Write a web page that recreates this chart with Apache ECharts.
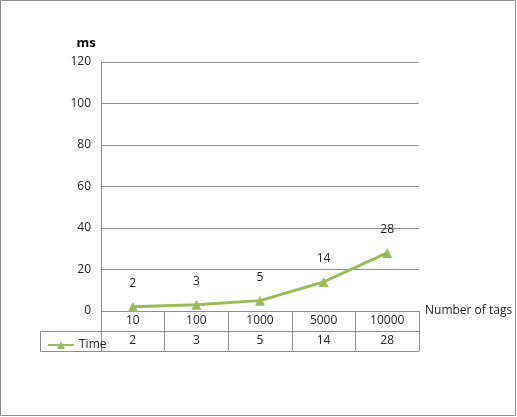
<!DOCTYPE html>
<html><head><meta charset="utf-8">
<script src="https://cdn.jsdelivr.net/npm/echarts@6/dist/echarts.min.js"></script>
<style>html,body{margin:0;padding:0;background:#fff}#main{width:517px;height:417px}</style>
</head><body>
<div id="main"></div>
<script>
const categories = ['10', '100', '1000', '5000', '10000'];
const timeValues = [2, 3, 5, 14, 28];
const yTicks = [0, 20, 40, 60, 80, 100, 120];

const chart = echarts.init(document.getElementById('main'));
const gray = '#8c8c8c';
const font = { fontFamily: 'Open Sans', fontSize: 12, color: '#222' };

chart.setOption({
    animation: false,
    textStyle: { fontFamily: 'Open Sans' },
    grid: { left: 101, right: 98, top: 62, bottom: 106, outerBoundsMode: 'none' },
    legend: {
        left: 42, top: 334, itemWidth: 26, itemHeight: 10, itemGap: 2,
        textStyle: font, data: ['Time']
    },
    xAxis: [
        {
            type: 'category', data: categories, position: 'bottom',
            axisLine: { lineStyle: { color: gray } },
            axisTick: { show: true, length: 20, lineStyle: { color: gray } },
            axisLabel: Object.assign({ margin: 4 }, font),
            name: 'Number of tags', nameLocation: 'end', nameGap: 6,
            nameTextStyle: Object.assign({ padding: [22, 0, 0, 0] }, font)
        },
        {
            type: 'category', data: timeValues.map(String), position: 'bottom', offset: 20,
            axisLine: { lineStyle: { color: gray } },
            axisTick: { show: true, length: 20, lineStyle: { color: gray } },
            axisLabel: Object.assign({ margin: 4 }, font)
        },
        {
            type: 'category', data: categories, position: 'bottom', offset: 40,
            axisLine: { lineStyle: { color: gray } },
            axisTick: { show: false }, axisLabel: { show: false }
        }
    ],
    yAxis: {
        type: 'value', min: 0, max: 120, interval: 20,
        name: 'ms', nameLocation: 'end', nameGap: 12,
        nameTextStyle: { fontFamily: 'Open Sans', fontSize: 13, fontWeight: 'bold', color: '#000', padding: [0, 30, 0, 0] },
        axisLine: { show: true, lineStyle: { color: gray } },
        axisTick: { show: false },
        axisLabel: Object.assign({ margin: 10 }, font),
        splitLine: { lineStyle: { color: gray } }
    },
    graphic: [
        { type: 'rect', shape: { x: 0.5, y: 0.5, width: 515, height: 415 }, style: { fill: 'none', stroke: gray } },
        { type: 'polyline', shape: { points: [[101.5, 311], [101.5, 351.5]] }, style: { fill: 'none', stroke: gray } },
        { type: 'polyline', shape: { points: [[101, 331.5], [40.5, 331.5], [40.5, 351.5], [101, 351.5]] }, style: { fill: 'none', stroke: gray } }
    ],
    series: [{
        name: 'Time', type: 'line', data: timeValues,
        symbol: 'triangle', symbolSize: 10,
        lineStyle: { color: '#9bbb59', width: 3 },
        itemStyle: { color: '#9bbb59' },
        label: Object.assign({ show: true, position: 'top', distance: 12 }, font)
    }]
});
</script>
</body></html>
